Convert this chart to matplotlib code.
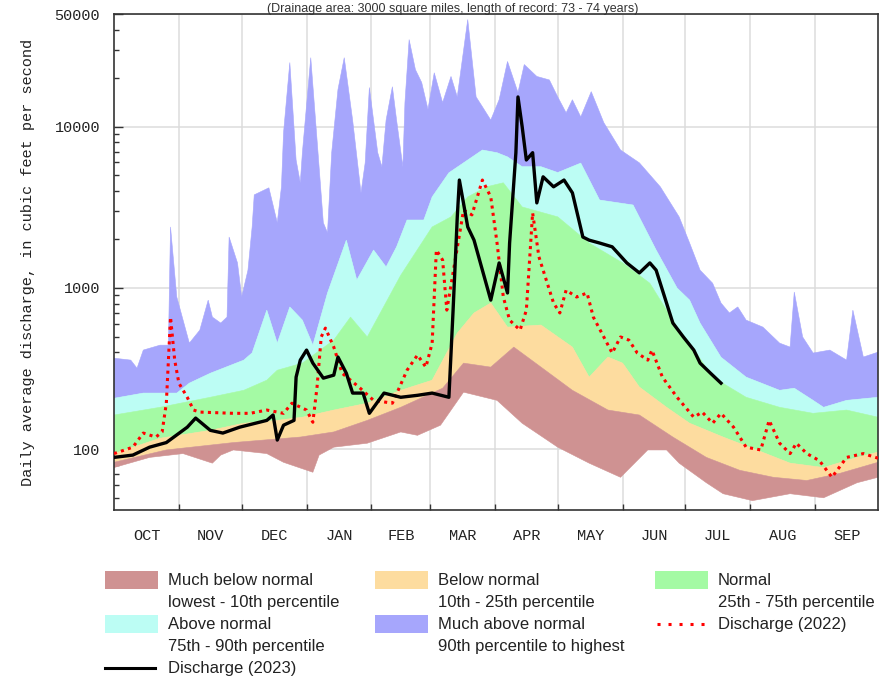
import matplotlib
matplotlib.use('Agg')
import matplotlib.pyplot as plt
from matplotlib.patches import Rectangle
from matplotlib.ticker import NullFormatter

max_days = [0, 8, 11, 14, 22, 26, 27, 30, 36, 41, 45, 47, 51, 54, 55, 59, 61, 64, 66, 67,
            74, 78, 80, 81, 84, 87, 89, 90, 94, 97, 100, 102, 104, 107, 110, 114, 118, 120, 122, 126,
            128, 130, 133, 135, 138, 139, 141, 144, 147, 150, 153, 157, 161, 164, 169, 173, 176, 180, 184, 188,
            193, 196, 202, 208, 212, 216, 219, 223, 228, 234, 242, 251, 261, 270, 275, 280, 286, 290, 294, 298,
            302, 310, 318, 323, 325, 329, 334, 342, 350, 353, 358, 365]
max_cfs = [367, 357, 318, 412, 442, 442, 2390, 879, 455, 548, 841, 660, 606, 660, 2070, 1430, 879, 1290, 2390, 3780,
           4180, 2540, 4240, 9180, 25000, 6220, 4490, 6900, 26800, 8300, 2540, 2200, 6900, 17000, 26800, 11000, 3890, 5970, 17500, 6900,
           5640, 11000, 17700, 11000, 5640, 14100, 34700, 22600, 18800, 12800, 21600, 14100, 20500, 15300, 46200, 15300, 13300, 11000, 14700, 25400,
           16300, 24300, 20500, 19500, 15300, 12200, 14700, 11500, 16500, 10600, 7170, 5970, 4240, 2760, 1900, 1290, 1070, 807, 700, 763,
           632, 572, 455, 430, 944, 497, 395, 412, 357, 729, 373, 400]

p90_days = [0, 14, 30, 36, 46, 62, 66, 73, 78, 84, 90, 95, 102, 111, 116, 124, 130, 135, 140, 148,
            152, 160, 169, 176, 183, 188, 195, 204, 212, 223, 232, 248, 259, 269, 275, 280, 290, 302, 318, 325,
            334, 339, 350, 365]
p90_cfs = [207, 223, 223, 257, 296, 357, 396, 729, 455, 763, 632, 442, 931, 1980, 1120, 1720, 1350, 1800, 2640, 2640,
           3670, 5180, 6220, 7170, 6900, 6500, 5650, 5650, 5200, 5950, 3510, 3270, 1720, 1000, 841, 606, 372, 280, 232, 239,
           201, 182, 201, 210]

p75_days = [0, 22, 46, 62, 73, 78, 90, 105, 113, 121, 137, 152, 161, 169, 178, 186, 195, 212, 227, 243,
            256, 269, 275, 286, 302, 318, 334, 350, 365]
p75_cfs = [163, 182, 210, 232, 268, 309, 342, 475, 660, 497, 1200, 2390, 2760, 3670, 4240, 4490, 3180, 2760, 1900, 1430,
           1070, 572, 455, 280, 210, 182, 167, 175, 158]

p25_days = [0, 22, 46, 62, 78, 90, 105, 121, 137, 152, 164, 172, 180, 188, 204, 219, 227, 236, 243, 251,
            264, 275, 291, 307, 323, 339, 355, 365]
p25_cfs = [94, 117, 131, 145, 151, 158, 175, 193, 232, 268, 525, 700, 807, 572, 589, 430, 280, 373, 342, 243,
           182, 145, 119, 99, 82, 77, 89, 96]

p10_days = [0, 25, 57, 89, 105, 121, 137, 157, 167, 180, 191, 204, 219, 236, 251, 267, 283, 299, 315, 331,
            347, 365]
p10_cfs = [83, 99, 110, 119, 128, 151, 182, 239, 342, 323, 430, 323, 232, 175, 163, 119, 89, 74, 67, 64,
           71, 83]

min_days = [0, 17, 33, 47, 51, 57, 73, 81, 95, 98, 105, 121, 137, 145, 156, 167, 183, 195, 212, 227,
            242, 255, 264, 270, 283, 291, 305, 323, 339, 355, 365]
min_cfs = [77, 89, 94, 82, 92, 99, 94, 83, 72, 92, 103, 109, 128, 122, 141, 226, 201, 145, 103, 82,
           67, 99, 99, 82, 62, 53, 48, 53, 50, 62, 67]

q2022_days = [0, 9, 14, 20, 23, 25, 27, 29, 31, 35, 38, 41, 57, 65, 73, 81, 85, 92, 95, 97,
              99, 101, 105, 109, 117, 124, 133, 140, 145, 149, 152, 154, 157, 159, 167, 171, 176, 180, 183, 186,
              189, 194, 197, 200, 203, 207, 210, 213, 216, 221, 226, 229, 234, 238, 242, 246, 250, 255, 257, 262,
              269, 277, 281, 286, 290, 296, 302, 309, 313, 318, 323, 326, 331, 337, 343, 350, 358, 365]
q2022_cfs = [94, 103, 126, 119, 128, 193, 660, 357, 257, 210, 175, 170, 167, 167, 175, 167, 193, 175, 147, 243,
             497, 564, 430, 296, 243, 201, 193, 309, 384, 323, 455, 1720, 1490, 729, 3040, 2840, 4670, 3670, 1900, 879,
             632, 548, 729, 2920, 1560, 1070, 807, 700, 970, 879, 931, 660, 497, 395, 497, 475, 395, 357, 412, 280,
             210, 158, 170, 145, 167, 137, 103, 99, 151, 109, 94, 109, 94, 85, 67, 89, 94, 88]

q2023_days = [0, 9, 17, 25, 35, 39, 46, 52, 60, 73, 76, 78, 81, 86, 87, 89, 92, 95, 100, 105,
              107, 111, 114, 119, 122, 129, 137, 145, 152, 160, 162, 164, 165, 169, 172, 176, 180, 184, 188, 189,
              192, 193, 195, 197, 200, 202, 205, 210, 215, 219, 224, 227, 232, 238, 245, 251, 256, 259, 267, 272,
              277, 280, 285, 290]
q2023_cfs = [89, 92, 103, 110, 137, 156, 131, 126, 137, 151, 163, 114, 141, 151, 280, 357, 412, 342, 276, 288,
             373, 296, 223, 223, 167, 223, 210, 216, 223, 210, 729, 2760, 4670, 2390, 1980, 1290, 841, 1430, 931, 1900,
             6900, 15300, 10000, 6220, 6900, 3370, 4890, 4240, 4670, 3890, 2070, 1980, 1900, 1800, 1430, 1240, 1430, 1290, 606, 497,
             412, 342, 296, 257]

MONTHS = ['OCT', 'NOV', 'DEC', 'JAN', 'FEB', 'MAR', 'APR', 'MAY', 'JUN', 'JUL', 'AUG', 'SEP']
MONTH_START = [0, 31, 61, 92, 123, 151, 182, 212, 243, 273, 304, 335, 365]

BROWN = '#cf9292'
ORANGE = '#fddc9f'
GREEN = '#a4faa4'
CYAN = '#bcfdf4'
PURPLE = '#a6a6fc'

MONO = 'Liberation Mono'
SANS = 'Liberation Sans'


def fill_band(ax, lo_days, lo_cfs, hi_days, hi_cfs, color):
    # polygon: upper edge left->right, lower edge back right->left
    xs = list(hi_days) + list(reversed(lo_days))
    ys = list(hi_cfs) + list(reversed(lo_cfs))
    ax.fill(xs, ys, facecolor=color, edgecolor=color, lw=0.4, zorder=1)


def draw_legend(fig):
    # work in pixel units of the 892x677 picture
    lax = fig.add_axes([0, 0, 1, 1], zorder=-1)
    lax.set_xlim(0, 892)
    lax.set_ylim(677, 0)
    lax.axis('off')

    entries = [
        (105, 571, 'patch', BROWN, 'Much below normal', 'lowest - 10th percentile'),
        (375, 571, 'patch', ORANGE, 'Below normal', '10th - 25th percentile'),
        (655, 571, 'patch', GREEN, 'Normal', '25th - 75th percentile'),
        (105, 615, 'patch', CYAN, 'Above normal', '75th - 90th percentile'),
        (375, 615, 'patch', PURPLE, 'Much above normal', '90th percentile to highest'),
        (655, 615, 'dots', 'red', 'Discharge (2022)', None),
        (105, 659, 'line', 'black', 'Discharge (2023)', None),
    ]
    for x, y, kind, color, line1, line2 in entries:
        if kind == 'patch':
            lax.add_patch(Rectangle((x, y), 53, 18, facecolor=color, edgecolor='none'))
        elif kind == 'dots':
            lax.plot([x + 2, x + 52], [y + 9, y + 9], color=color, lw=2.2,
                     ls=(0, (1, 2.6)), dash_capstyle='butt')
        else:
            lax.plot([x, x + 50], [y + 9, y + 9], color=color, lw=2.2)
        lax.text(x + 63, y + 9.5, line1, fontsize=12, family=SANS, va='center', color='#222222')
        if line2:
            lax.text(x + 63, y + 31, line2, fontsize=12, family=SANS, va='center', color='#222222')


def main():
    fig = plt.figure(figsize=(8.92, 6.77), dpi=100)
    ax = fig.add_axes([114 / 892, 1 - 510 / 677, 764 / 892, 496 / 677])

    # percentile bands, top to bottom
    fill_band(ax, p90_days, p90_cfs, max_days, max_cfs, PURPLE)
    fill_band(ax, p75_days, p75_cfs, p90_days, p90_cfs, CYAN)
    fill_band(ax, p25_days, p25_cfs, p75_days, p75_cfs, GREEN)
    fill_band(ax, p10_days, p10_cfs, p25_days, p25_cfs, ORANGE)
    fill_band(ax, min_days, min_cfs, p10_days, p10_cfs, BROWN)

    ax.plot(q2022_days, q2022_cfs, color='red', lw=2.2, ls=(0, (1, 1.4)),
            dash_capstyle='butt', zorder=3)
    ax.plot(q2023_days, q2023_cfs, color='black', lw=2.4, zorder=4)

    ax.set_yscale('log')
    ax.set_xlim(0, 365)
    ax.set_ylim(42, 50000)

    ax.set_yticks([100, 1000, 10000, 50000], ['100', '1000', '10000', '50000'])
    minor_y = [50, 60, 70, 80, 90] + [k * 100 for k in range(2, 10)] + \
              [k * 1000 for k in range(2, 10)] + [20000, 30000, 40000]
    ax.set_yticks(minor_y, minor=True)
    ax.yaxis.set_minor_formatter(NullFormatter())

    ax.set_xticks(MONTH_START[1:-1])
    ax.xaxis.set_major_formatter(NullFormatter())
    mids = [(a + b) / 2 for a, b in zip(MONTH_START[:-1], MONTH_START[1:])]
    ax.set_xticks(mids, MONTHS, minor=True)

    ax.tick_params(axis='x', which='major', direction='in', length=4, width=1, color='#333333')
    ax.tick_params(axis='x', which='minor', length=0, pad=14, labelsize=11)
    ax.tick_params(axis='y', which='major', direction='in', length=6.5, width=1, color='#333333',
                   pad=10, labelsize=11)
    ax.tick_params(axis='y', which='minor', direction='in', length=3.6, width=1, color='#333333')
    for lab in ax.get_xticklabels(minor=True) + ax.get_yticklabels():
        lab.set_family(MONO)
        lab.set_color('#222222')

    ax.grid(True, which='major', color='#dcdcdc', lw=1.1)
    ax.set_axisbelow(True)
    for sp in ax.spines.values():
        sp.set_linewidth(1.2)
        sp.set_color('#333333')

    fig.text(28 / 892, 0.5 + (677 / 2 - 262) / 677, 'Daily average discharge, in cubic feet per second',
             rotation=90, ha='center', va='center', fontsize=11, family=MONO, color='#222222')

    # subtitle squeezed into the strip above the plot
    fig.text(453 / 892, 1 - 11.6 / 677,
             '(Drainage area: 3000 square miles, length of record: 73 - 74 years)',
             ha='center', va='baseline', fontsize=9, family=SANS, color='#333333')

    draw_legend(fig)
    fig.savefig('out.png', dpi=100)


if __name__ == '__main__':
    main()
